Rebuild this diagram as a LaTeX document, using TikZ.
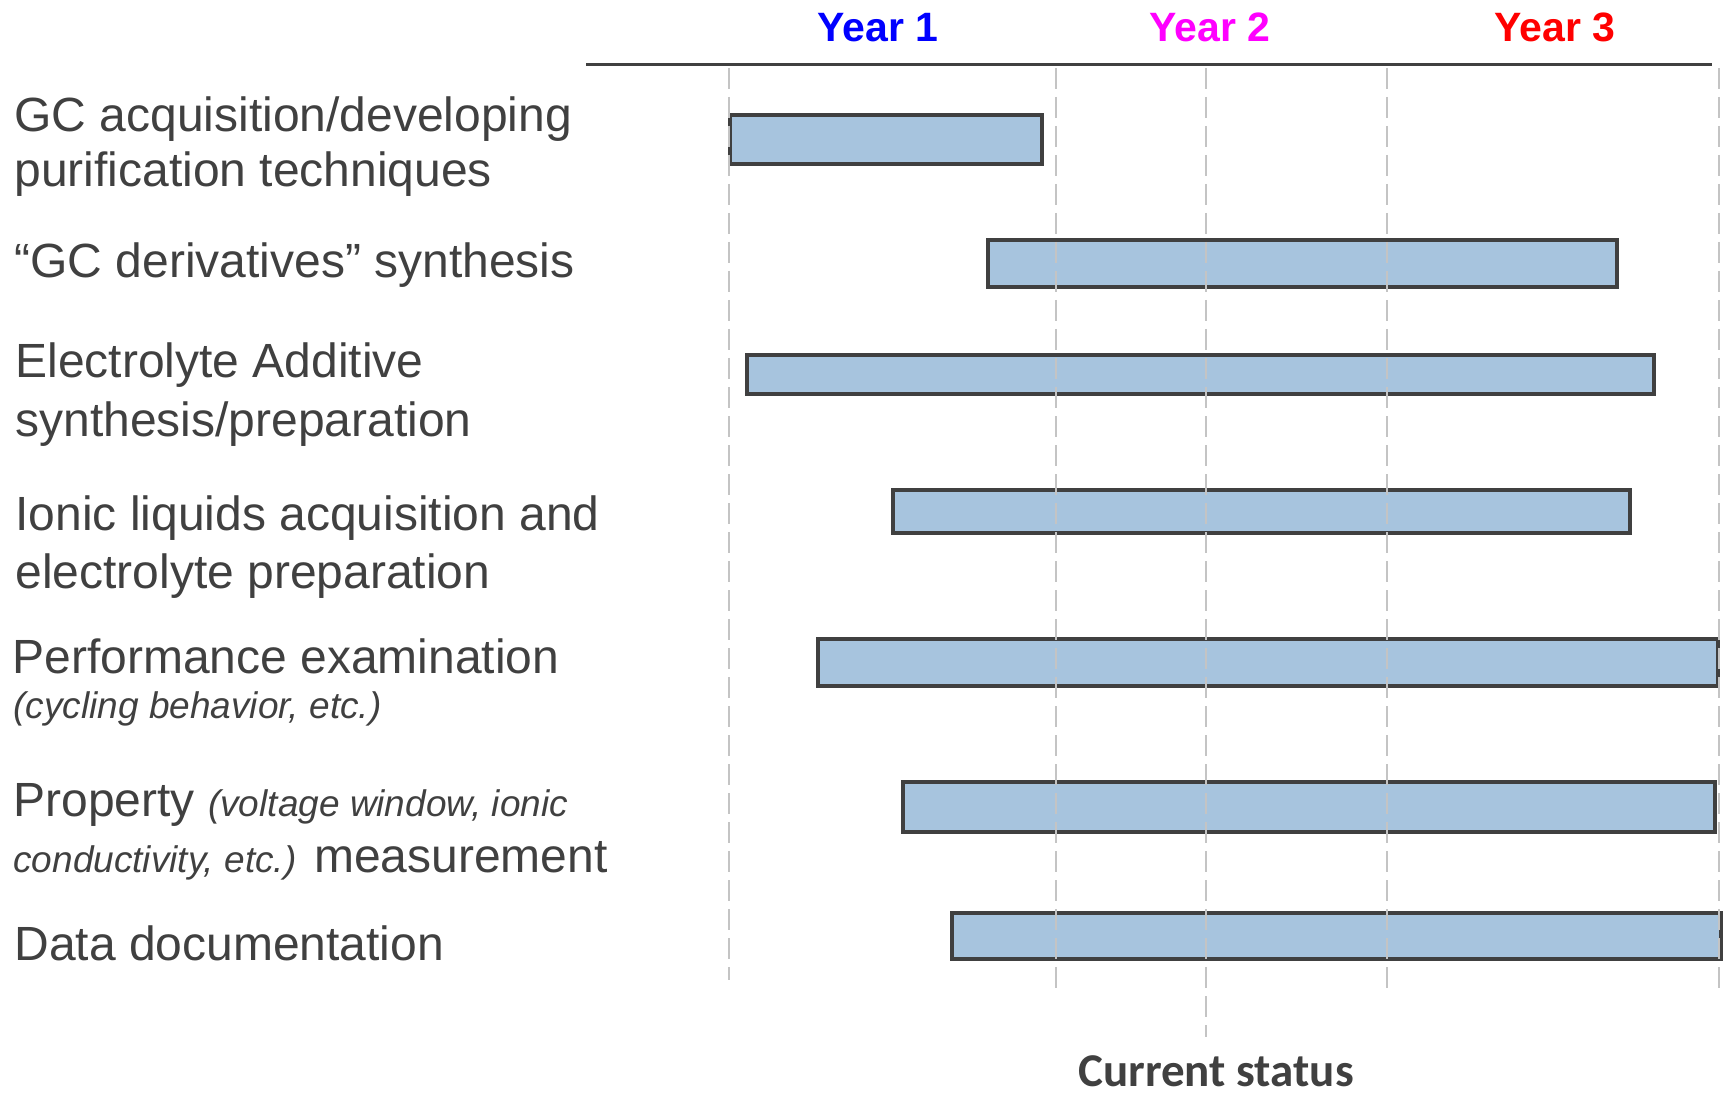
\documentclass[tikz,border=0pt]{standalone}
\usepackage{fontspec}
\setmainfont{Liberation Sans}
\newfontfamily\carlito{Carlito}
\definecolor{txtgray}{HTML}{404040}
\definecolor{barblue}{HTML}{A7C4DE}
\definecolor{gridgray}{HTML}{C4C4C4}
\definecolor{yrmagenta}{HTML}{FF00FF}
\newcommand{\lblfont}{\fontsize{24}{28}\selectfont}
\newcommand{\notefont}{\itshape\fontsize{18.5}{22}\selectfont}

\begin{document}
\begin{tikzpicture}[x=0.5pt,y=-0.5pt,
    task/.style={anchor=base west,inner sep=0pt,text=txtgray,font=\lblfont},
    year/.style={anchor=base,inner sep=0pt,font=\bfseries\fontsize{20.5}{24}\selectfont},
    bar/.style={draw=txtgray,line width=1.6pt,fill=barblue},
    gridline/.style={gridgray,line width=1pt,dash pattern=on 10.5pt off 4pt}]
    \useasboundingbox (0,0) rectangle (1727,1096);
    % years and time axis
    \node[year,text=blue] (yr1) at (878,42) {Year 1};
    \node[year,text=yrmagenta] (yr2) at (1210,42) {Year 2};
    \node[year,text=red] (yr3) at (1555,42) {Year 3};
    \draw[txtgray,line width=1.5pt] (586,64.5) -- (1712,64.5);
    % tasks
    \node[task] (gc1) at (14,132) {GC acquisition/developing};
    \node[task] (gc2) at (14,187) {purification techniques};
    \node[task] (der) at (14,278) {``GC derivatives'' synthesis};
    \node[task] (add1) at (15,378) {Electrolyte Additive};
    \node[task] (add2) at (15,436) {synthesis/preparation};
    \node[task] (ion1) at (15,530) {Ionic liquids acquisition and};
    \node[task] (ion2) at (15,588) {electrolyte preparation};
    \node[task] (perf1) at (12,673) {Performance examination};
    \node[task] (perf2) at (13,718) {\notefont(cycling behavior, etc.)};
    \node[task] (prop1) at (13,816) {Property {\notefont(voltage window, ionic}};
    \node[task] (prop2) at (13,872) {{\notefont conductivity, etc.)} measurement};
    \node[task] (data) at (14,960) {Data documentation};
    % bars
    \foreach \a/\b/\c/\d in {730/115/1042/164, 988/240/1617/287,
        747/355/1654/394, 893/490/1630/533, 818/639/1718/686,
        903/782/1715/832, 952/913/1721/959}
    \draw[bar] (\a,\b) rectangle (\c,\d);
    % dashed year marks
    \foreach \x/\e in {729/980, 1056/995, 1206/1037, 1387/995, 1719/992}
    \draw[gridline] (\x,68) -- (\x,\e);
    \node[anchor=base,inner sep=0pt,text=txtgray,font=\carlito\bfseries\fontsize{23.5}{28}\selectfont] (cur) at (1216,1086) {Current status};
\end{tikzpicture}
\end{document}
